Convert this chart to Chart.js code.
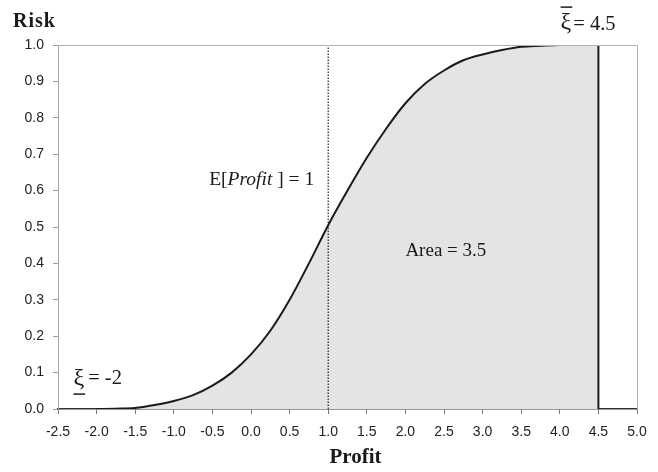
<!DOCTYPE html>
<html>
<head>
<meta charset="utf-8">
<script src="https://cdn.jsdelivr.net/npm/chart.js@4/dist/chart.umd.min.js"></script>
<style>
html,body{margin:0;padding:0;background:#fff;}
#wrap{width:658px;height:472px;}
</style>
</head>
<body>
<div id="wrap"><canvas id="c" width="658" height="472"></canvas></div>
<script>
// ---- data ----
const profitX = [-2.0, -1.75, -1.5, -1.25, -1.0, -0.75, -0.5, -0.25, 0.0, 0.25, 0.5, 0.75, 1.0, 1.25, 1.5, 1.75, 2.0, 2.25, 2.5, 2.75, 3.0, 3.25, 3.5, 3.75, 4.0, 4.25, 4.5];
const riskY   = [0.0, 0.001, 0.003, 0.011, 0.022, 0.038, 0.064, 0.10, 0.15, 0.215, 0.30, 0.40, 0.505, 0.60, 0.69, 0.77, 0.84, 0.893, 0.93, 0.958, 0.974, 0.986, 0.995, 0.998, 1.0, 1.0, 1.0];
const expectedProfit = 1.0;
const lowerBound = -2;
const upperBound = 4.5;
const areaValue = 3.5;
const xTickValues = [-2.5, -2.0, -1.5, -1.0, -0.5, 0.0, 0.5, 1.0, 1.5, 2.0, 2.5, 3.0, 3.5, 4.0, 4.5, 5.0];
const yTickValues = [0.0, 0.1, 0.2, 0.3, 0.4, 0.5, 0.6, 0.7, 0.8, 0.9, 1.0];
const xAxisTitle = 'Profit';
const yAxisTitle = 'Risk';

const SERIF = '"Liberation Serif", "Times New Roman", serif';
const SANS = '"Liberation Sans", Arial, sans-serif';

const curvePoints = profitX.map((x, i) => ({ x: x, y: riskY[i] }));

const annotationPlugin = {
  id: 'annotations',
  afterDraw(chart) {
    const ctx = chart.ctx;
    const xs = chart.scales.x, ys = chart.scales.y;
    const ca = chart.chartArea;
    const px = v => xs.getPixelForValue(v);
    const py = v => ys.getPixelForValue(v);
    ctx.save();
    ctx.fillStyle = '#1a1a1a';
    ctx.strokeStyle = '#1a1a1a';
    ctx.textBaseline = 'alphabetic';

    // top & right frame of plot area
    ctx.save();
    ctx.strokeStyle = '#b0b0b0';
    ctx.lineWidth = 1;
    ctx.beginPath();
    ctx.moveTo(ca.left, ca.top + 0.5);
    ctx.lineTo(ca.right + 0.5, ca.top + 0.5);
    ctx.lineTo(ca.right + 0.5, ca.bottom);
    ctx.stroke();
    ctx.restore();

    // axis titles
    ctx.font = 'bold 20px ' + SERIF;
    ctx.textAlign = 'left';
    try { ctx.letterSpacing = '1px'; } catch (e) {}
    ctx.fillText(yAxisTitle, ca.left - 45, ca.top - 18);
    try { ctx.letterSpacing = '0px'; } catch (e) {}
    ctx.font = 'bold 21px ' + SERIF;
    ctx.textAlign = 'center';
    ctx.fillText(xAxisTitle, (ca.left + ca.right) / 2 + 8, ca.bottom + 54);

    // E[Profit] = 1  (right-aligned left of the dotted line)
    const partsE = [
      { t: 'E[', f: '19.5px ' + SERIF },
      { t: 'Profit', f: 'italic 19.5px ' + SERIF },
      { t: ' ] = ' + expectedProfit, f: '19.5px ' + SERIF }
    ];
    let total = 0;
    partsE.forEach(p => { ctx.font = p.f; p.w = ctx.measureText(p.t).width; total += p.w; });
    let xx = px(expectedProfit) - 14 - total;
    const yE = py(0.616);
    ctx.textAlign = 'left';
    partsE.forEach(p => { ctx.font = p.f; ctx.fillText(p.t, xx, yE); xx += p.w; });

    // Area = 3.5
    ctx.font = '19px ' + SERIF;
    ctx.fillText('Area = ' + areaValue, px(2.0), py(0.421));

    // lower bound label (xi with underline)
    let lx = px(-2.3), ly = py(0.067);
    ctx.font = '24px ' + SERIF;
    const wXi = ctx.measureText('ξ').width;
    ctx.fillText('ξ', lx, ly);
    ctx.lineWidth = 1.5;
    ctx.beginPath();
    ctx.moveTo(lx, ly + 9.5);
    ctx.lineTo(lx + wXi + 1, ly + 9.5);
    ctx.stroke();
    ctx.font = '20.5px ' + SERIF;
    ctx.fillText('= ' + lowerBound, lx + wXi + 4, ly - 1);

    // upper bound label (xi with overline)
    let ux = px(4.01), uy = py(1.045);
    ctx.font = '24px ' + SERIF;
    ctx.fillText('ξ', ux, uy);
    ctx.beginPath();
    ctx.moveTo(ux, uy - 21.5);
    ctx.lineTo(ux + wXi + 1, uy - 21.5);
    ctx.stroke();
    ctx.font = '20.5px ' + SERIF;
    ctx.fillText('= ' + upperBound.toFixed(1), ux + wXi + 2, uy + 1);

    ctx.restore();
  }
};

new Chart(document.getElementById('c'), {
  type: 'scatter',
  data: {
    datasets: [
      {
        label: 'E[Profit]',
        data: [{ x: expectedProfit, y: 0 }, { x: expectedProfit, y: 1 }],
        showLine: true,
        borderColor: '#222',
        borderWidth: 1.2,
        borderDash: [1.5, 1.5],
        pointRadius: 0,
        fill: false,
        order: 1
      },
      {
        label: 'Upper bound',
        data: [{ x: upperBound, y: 0 }, { x: upperBound, y: 1 }],
        showLine: true,
        borderColor: '#1a1a1a',
        borderWidth: 2,
        pointRadius: 0,
        fill: false,
        order: 1
      },
      {
        label: 'Risk',
        data: curvePoints,
        showLine: true,
        borderColor: '#1a1a1a',
        borderWidth: 2,
        backgroundColor: '#e4e4e4',
        fill: 'origin',
        pointRadius: 0,
        cubicInterpolationMode: 'monotone',
        order: 2
      }
    ]
  },
  options: {
    responsive: false,
    animation: false,
    events: [],
    layout: { padding: { left: 0, top: 45, right: 21, bottom: 0 } },
    plugins: { legend: { display: false }, tooltip: { enabled: false } },
    scales: {
      x: {
        type: 'linear',
        min: xTickValues[0],
        max: xTickValues[xTickValues.length - 1],
        afterBuildTicks: s => { s.ticks = xTickValues.map(v => ({ value: v })); },
        afterFit: s => { s.height = 63; },
        ticks: {
          callback: v => Number(v).toFixed(1),
          font: { family: SANS, size: 14 },
          color: '#222',
          padding: 10,
          maxRotation: 0,
          autoSkip: false
        },
        grid: { display: true, drawOnChartArea: false, drawTicks: true, tickLength: 5, color: '#777' },
        border: { display: true, color: '#333', width: 1.5 }
      },
      y: {
        type: 'linear',
        min: yTickValues[0],
        max: yTickValues[yTickValues.length - 1],
        afterBuildTicks: s => { s.ticks = yTickValues.map(v => ({ value: v })); },
        afterFit: s => { s.width = 58; },
        ticks: {
          callback: v => Number(v).toFixed(1),
          font: { family: SANS, size: 14 },
          color: '#222',
          padding: 9,
          autoSkip: false
        },
        grid: { display: true, drawOnChartArea: false, drawTicks: true, tickLength: 5, color: '#999' },
        border: { display: true, color: '#aaa', width: 1 }
      }
    }
  },
  plugins: [annotationPlugin]
});
</script>
</body>
</html>
